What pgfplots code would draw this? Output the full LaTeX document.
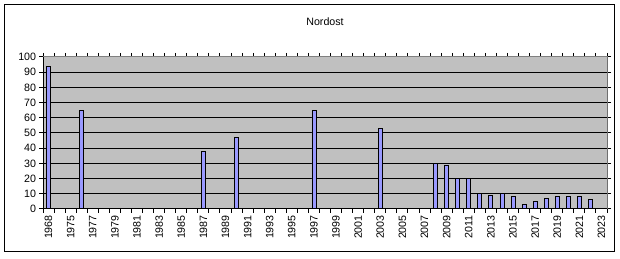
\documentclass[border=0pt]{standalone}
\usepackage{pgfplots}
\pgfplotsset{compat=1.18}
\usepackage{fontspec}
\setmainfont{Liberation Sans}
\definecolor{plotbg}{RGB}{192,192,192}
\definecolor{barfill}{RGB}{153,153,255}
\begin{document}
\begin{tikzpicture}
\path (0pt,0pt) rectangle (465pt,-194.25pt);
\draw[black, line width=0.75pt] (3.4pt,-3.2pt) rectangle (460.5pt,-188.4pt);
\node[font=\fontsize{8}{9.5}\selectfont] at (243.75pt,-16.5pt) {Nordost};
\begin{axis}[
  at={(32.25pt,-156.75pt)}, anchor=south west,
  scale only axis, width=423pt, height=114pt,
  xmin=-0.5, xmax=50.5, ymin=0, ymax=100,
  ytick={0,10,...,100},
  ymajorgrids, grid style={black, line width=0.75pt},
  axis background/.style={fill=plotbg},
  axis line style={draw=gray, line width=0.75pt},
  ybar, bar width=0.36,
  xtick={0,2,...,50},
  xticklabels={1968,1975,1977,1979,1981,1983,1985,1987,1989,1991,1993,1995,1997,1999,2001,2003,2005,2007,2009,2011,2013,2015,2017,2019,2021,2023},
  minor xtick={-0.5,0.5,...,50.5},
  major x tick style={draw=none},
  tick align=outside, major tick length=3pt, minor tick length=3pt,
  tick style={black, line width=0.75pt},
  x tick label style={rotate=90, anchor=east, inner sep=1.5pt},
  y tick label style={inner sep=2pt},
  tick label style={font=\fontsize{8}{9.5}\selectfont},
  /pgf/number format/assume math mode=true,
]
\addplot[fill=barfill, draw=black, line width=0.6pt] coordinates {
 (0,94) (3,65) (14,38) (17,47) (24,65) (30,53)
 (35,30) (36,29) (37,20) (38,20) (39,10) (40,9) (41,10) (42,8)
 (43,3) (44,5) (45,7) (46,8) (47,8) (48,8) (49,6)
};
\draw[black, line width=0.75pt] (rel axis cs:0,1) -- (rel axis cs:0,0) -- (rel axis cs:1,0) -- (rel axis cs:1,1);
\end{axis}
\end{tikzpicture}
\end{document}
